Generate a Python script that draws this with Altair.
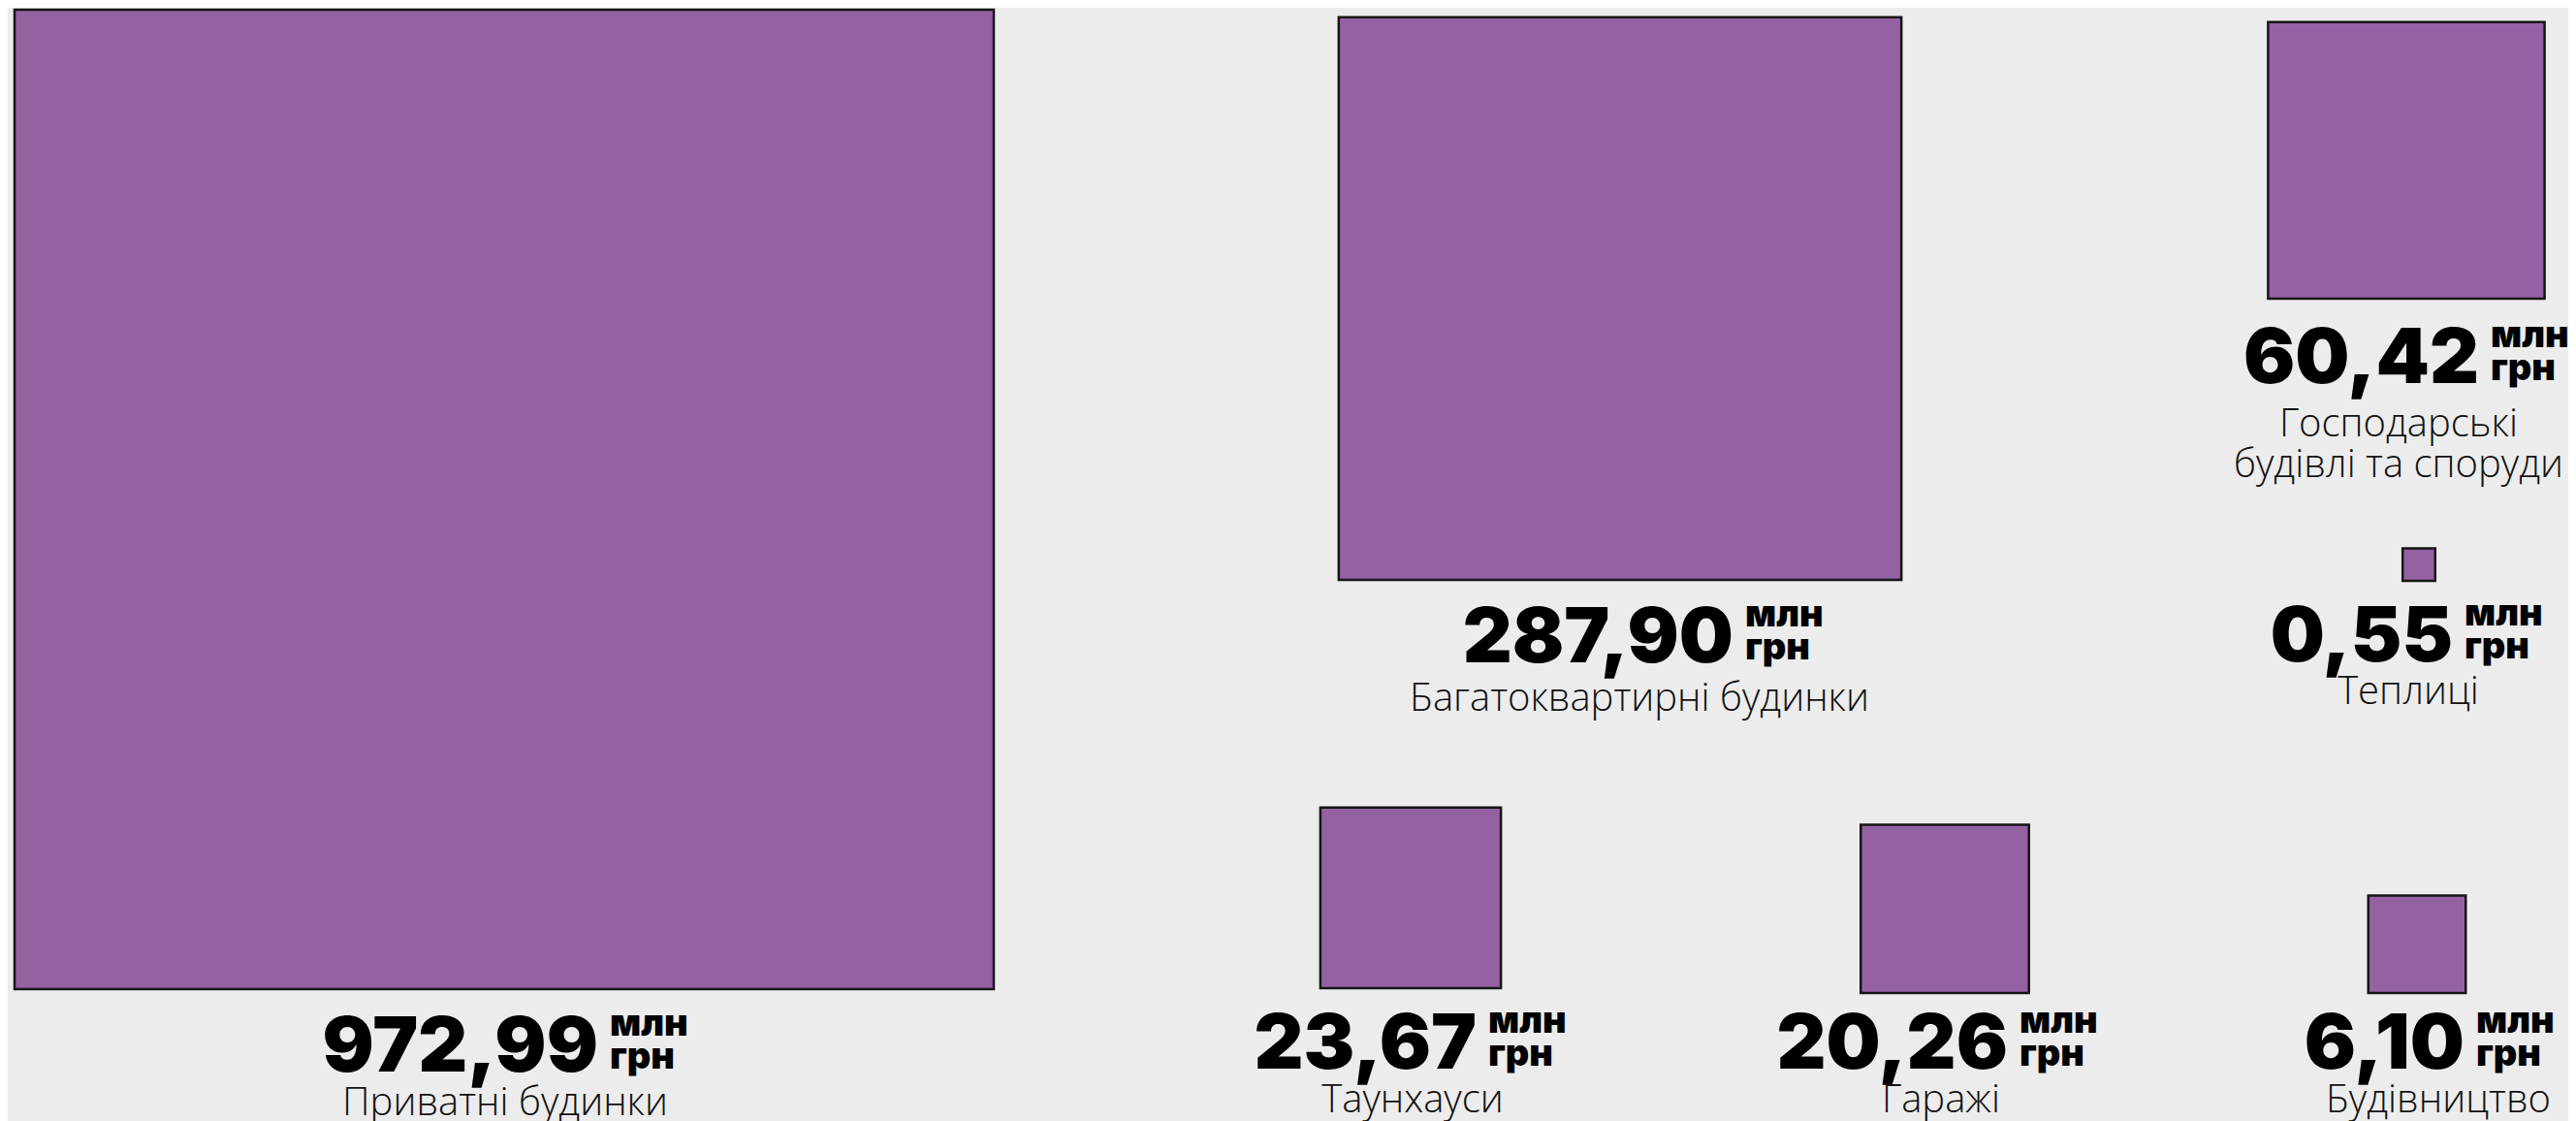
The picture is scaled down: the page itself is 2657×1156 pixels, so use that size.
import altair as alt

# ---- data ----
categories = [
    "Приватні будинки",
    "Багатоквартирні будинки",
    "Господарські будівлі та споруди",
    "Теплиці",
    "Таунхауси",
    "Гаражі",
    "Будівництво",
]
values = [972.99, 287.90, 60.42, 0.55, 23.67, 20.26, 6.10]
value_text = ["972,99", "287,90", "60,42", "0,55", "23,67", "20,26", "6,10"]
label_lines = [
    ["Приватні будинки"],
    ["Багатоквартирні будинки"],
    ["Господарські", "будівлі та споруди"],
    ["Теплиці"],
    ["Таунхауси"],
    ["Гаражі"],
    ["Будівництво"],
]
unit_top = "млн"
unit_bottom = "грн"

# ---- layout (page pixels) ----
sq_center_x = [520, 1671, 2482, 2495, 1455, 2006, 2493]
sq_bottom = [1020, 598, 308, 599, 1019, 1024, 1024]
num_right = [617, 1788, 2557, 2530, 1523, 2071, 2542]
num_base = [1105, 683, 395, 682, 1102, 1102, 1102]
label_cx = [521, 1691, 2474, 2484, 1457, 2002, 2515]
label_base = [1150, 733, 450, 726, 1147, 1147, 1147]

MAX_SIDE = 1010
SIDE_EXP = 0.455
MAX_VALUE = max(values)

rows = []
for i, c in enumerate(categories):
    rows.append(
        dict(
            category=c,
            value=values[i],
            vtext=value_text[i],
            lines=label_lines[i],
            cx=sq_center_x[i],
            bottom=sq_bottom[i],
            nright=num_right[i],
            nbase=num_base[i],
            lcx=label_cx[i],
            lbase=label_base[i],
            u1=unit_top,
            u2=unit_bottom,
        )
    )

W, H = 2641, 1140
xs = alt.Scale(domain=[8, 8 + W])
ys = alt.Scale(domain=[8, 8 + H], reverse=True)

base = alt.Chart(alt.Data(values=rows))

squares = (
    base.transform_calculate(
        side=f"{MAX_SIDE} * pow(datum.value / {MAX_VALUE}, {SIDE_EXP})"
    )
    .transform_calculate(
        x0="datum.cx - datum.side / 2",
        x1="datum.cx + datum.side / 2",
        y0="datum.bottom - datum.side",
    )
    .mark_rect(fill="#9461a3", stroke="#151515", strokeWidth=2.5)
    .encode(
        x=alt.X("x0:Q", scale=xs, axis=None),
        x2="x1:Q",
        y=alt.Y("y0:Q", scale=ys, axis=None),
        y2="bottom:Q",
        tooltip=["category:N", "value:Q"],
    )
)

numbers = base.mark_text(
    align="right", baseline="alphabetic", font="Inter", fontWeight=900,
    fontSize=79, color="#000000"
).encode(
    x=alt.X("nright:Q", scale=xs, axis=None),
    y=alt.Y("nbase:Q", scale=ys, axis=None),
    text="vtext:N",
)

units1 = base.mark_text(
    align="left", baseline="alphabetic", font="Inter", fontWeight=900,
    fontSize=38, color="#000000", dx=12, dy=-37
).encode(
    x=alt.X("nright:Q", scale=xs, axis=None),
    y=alt.Y("nbase:Q", scale=ys, axis=None),
    text="u1:N",
)

units2 = base.mark_text(
    align="left", baseline="alphabetic", font="Inter", fontWeight=900,
    fontSize=38, color="#000000", dx=12, dy=-3
).encode(
    x=alt.X("nright:Q", scale=xs, axis=None),
    y=alt.Y("nbase:Q", scale=ys, axis=None),
    text="u2:N",
)

labels = base.mark_text(
    align="center", baseline="alphabetic", font="Open Sans", fontWeight=300,
    fontSize=40, lineHeight=42, color="#111111"
).encode(
    x=alt.X("lcx:Q", scale=xs, axis=None),
    y=alt.Y("lbase:Q", scale=ys, axis=None),
    text=alt.Text("lines:N"),
)

chart = (
    alt.layer(squares, numbers, units1, units2, labels)
    .properties(
        width=W,
        height=H,
        background="#ececec",
        padding={"left": 0, "top": 0, "right": 0, "bottom": 10},
        autosize="none",
    )
    .configure_view(stroke=None)
)

chart.save("out.html", embed_options={"renderer": "svg", "actions": False})
